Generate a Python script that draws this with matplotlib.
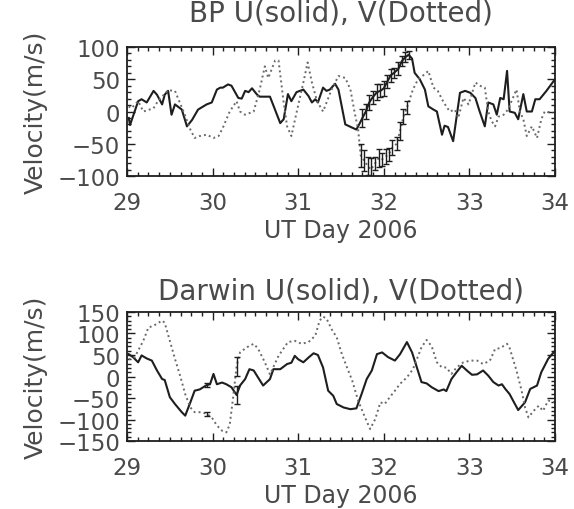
import numpy as np
import matplotlib
matplotlib.use("Agg")
import matplotlib.pyplot as plt
from matplotlib.ticker import MultipleLocator

# ---- BP, top panel ----
bp_u_day = [29.02, 29.035, 29.13, 29.17, 29.23, 29.31, 29.35, 29.41, 29.44, 29.48,
            29.52, 29.56, 29.64, 29.70, 29.76, 29.83, 29.93, 29.99, 30.05, 30.09,
            30.12, 30.18, 30.22, 30.30, 30.34, 30.38, 30.42, 30.46, 30.52, 30.55,
            30.67, 30.79, 30.83, 30.88, 30.92, 30.98, 31.06, 31.12, 31.16, 31.20,
            31.23, 31.29, 31.33, 31.37, 31.43, 31.47, 31.55, 31.63, 31.68, 31.72]
bp_u = [-10, -21, 16, 19, 14, 32, 26, 11, 26, 32,
        -5, 11, 3, -23, -13, 3, 11, 14, 34, 37,
        37, 42, 40, 21, 20, 32, 30, 36, 26, 23,
        23, -18, -12, 27, 16, 30, 34, 24, 14, 19,
        14, 37, 32, 34, 43, 34, -20, -25, -28, -18]
# U points with error bars
bp_ue_day = [31.75, 31.79, 31.83, 31.87, 31.92, 31.96, 32.00, 32.04, 32.08, 32.12,
             32.17, 32.21, 32.25, 32.29]
bp_ue = [-10, 0, 14, 22, 30, 32, 36, 46, 56, 60, 66, 78, 84, 88]
bp_ue_err = [14, 12, 12, 10, 12, 10, 12, 10, 10, 8, 10, 8, 8, 6]
bp_u2_day = [32.33, 32.36, 32.42, 32.48, 32.52, 32.58, 32.62, 32.68, 32.71, 32.75,
             32.81, 32.89, 32.95, 33.01, 33.07, 33.12, 33.18, 33.22, 33.28, 33.32,
             33.36, 33.40, 33.44, 33.47, 33.53, 33.57, 33.63, 33.67, 33.73, 33.77,
             33.82, 33.90, 34.00]
bp_u2 = [82, 60, 50, 34, 8, 3, 0, -36, -22, -24,
         -46, 29, 32, 29, 21, 0, -23, 14, 11, -5,
         21, 19, 63, 0, -2, -12, 27, 0, 0, 19,
         19, 32, 50]

bp_v_day = [29.02, 29.05, 29.13, 29.19, 29.31, 29.36, 29.48, 29.56, 29.66, 29.74,
            29.79, 29.85, 29.93, 30.01, 30.07, 30.12, 30.20, 30.28, 30.32, 30.38,
            30.48, 30.55, 30.61, 30.65, 30.73, 30.77, 30.83, 30.87, 30.92, 30.98,
            31.06, 31.11, 31.16, 31.22, 31.29, 31.39, 31.47, 31.55, 31.61, 31.66,
            31.70]
bp_v = [8, 5, 16, 0, 5, 16, 33, 32, 0, -28,
        -41, -38, -36, -41, -38, -25, 0, 16, 0, -5,
        0, 34, 70, 52, 79, 79, 14, -23, -38, -2,
        45, 76, 45, 16, 0, 34, 55, 52, 34, -2,
        -28]
# V points with error bars
bp_ve_day = [31.73, 31.77, 31.81, 31.85, 31.90, 31.94, 31.98, 32.02, 32.06, 32.10,
             32.15, 32.19, 32.23, 32.27]
bp_ve = [-68, -76, -84, -90, -80, -72, -74, -70, -66, -56, -50, -30, -8, 6]
bp_ve_err = [18, 16, 14, 18, 10, 14, 10, 12, 10, 12, 10, 14, 12, 10]
bp_v2_day = [32.34, 32.40, 32.48, 32.52, 32.58, 32.63, 32.70, 32.77, 32.83, 32.87,
             32.93, 32.99, 33.07, 33.12, 33.18, 33.22, 33.26, 33.30, 33.34, 33.40,
             33.45, 33.55, 33.59, 33.63, 33.67, 33.73, 33.79, 33.84, 33.88, 33.98]
bp_v2 = [34, 50, 58, 63, 37, 32, 14, 0, 3, -10,
         21, 11, 45, 40, 37, 0, -15, -23, -8, -5,
         3, 34, 0, -12, -38, -23, -41, -12, 0, -2]

# ---- Darwin, bottom panel ----
dw_u_day = [29.02, 29.07, 29.13, 29.17, 29.23, 29.29, 29.35, 29.41, 29.44, 29.50,
            29.56, 29.64, 29.68, 29.74, 29.79, 29.85, 29.93, 29.97, 30.01, 30.05,
            30.11, 30.16, 30.22, 30.28, 30.32, 30.38, 30.43, 30.48, 30.53, 30.59,
            30.67, 30.71, 30.79, 30.87, 30.92, 30.96, 31.00, 31.06, 31.12, 31.18,
            31.23, 31.29, 31.35, 31.41, 31.45, 31.53, 31.61, 31.68, 31.74, 31.80,
            31.86, 31.92, 31.98, 32.05, 32.13, 32.19, 32.27, 32.33, 32.38, 32.44,
            32.50, 32.56, 32.64, 32.70, 32.73, 32.79, 32.85, 32.91, 32.97, 33.03,
            33.09, 33.16, 33.22, 33.28, 33.34, 33.38, 33.42, 33.47, 33.51, 33.57,
            33.65, 33.71, 33.79, 33.84, 33.92, 34.00]
dw_u = [52, 45, 33, 49, 42, 37, 14, -6, -8, -48,
        -64, -83, -91, -60, -33, -30, -20, -18, 6, -18,
        -14, -18, -25, -43, -21, -6, 17, 14, -2, -21,
        -6, 17, 17, 29, 32, 48, 40, 33, 44, 54,
        50, 21, -33, -45, -64, -72, -76, -74, -41, -6,
        14, 52, 56, 45, 37, 52, 80, 56, 25, -13,
        -16, -25, -34, -30, -34, -6, 10, 25, 14, 4,
        5, 14, 2, -13, -21, -18, -29, -41, -56, -78,
        -60, -29, -21, 10, 41, 60]
dw_v_day = [29.02, 29.09, 29.19, 29.25, 29.31, 29.41, 29.44, 29.50, 29.56, 29.62,
            29.68, 29.74, 29.79, 29.87, 29.93, 29.99, 30.05, 30.11, 30.16, 30.20,
            30.24, 30.28, 30.32, 30.40, 30.48, 30.53, 30.61, 30.67, 30.77, 30.88,
            30.96, 31.04, 31.12, 31.20, 31.25, 31.29, 31.33, 31.39, 31.45, 31.51,
            31.57, 31.63, 31.70, 31.78, 31.84, 31.90, 31.96, 32.01, 32.07, 32.13,
            32.19, 32.27, 32.34, 32.38, 32.44, 32.50, 32.56, 32.62, 32.68, 32.73,
            32.79, 32.85, 32.93, 33.01, 33.09, 33.16, 33.24, 33.30, 33.36, 33.44,
            33.47, 33.55, 33.61, 33.65, 33.69, 33.75, 33.81, 33.86, 33.92, 34.00]
dw_v = [40, 45, 83, 114, 118, 130, 125, 83, 41, 2,
        -41, -72, -83, -83, -87, -95, -114, -126, -130, -112,
        -48, 24, 56, 68, 76, 65, 33, 5, 48, 80,
        83, 76, 80, 95, 130, 139, 135, 110, 91, 52,
        21, -9, -56, -95, -122, -99, -60, -64, -48, -33,
        -17, -2, 17, 37, 68, 85, 70, 33, 21, 21,
        6, 21, 33, 37, 37, 29, 37, 64, 66, 76,
        66, 14, -33, -72, -95, -80, -68, -80, -56, -60]
dw_ue_day = [29.93, 30.28]
dw_ue = [-20, -43]
dw_ue_err = [5, 22]
dw_ve_day = [29.93, 30.28]
dw_ve = [-87, 24]
dw_ve_err = [5, 22]

day_ticks = [29, 30, 31, 32, 33, 34]
txt = '#4a4a4a'
ink = '#1e1e1e'
dot = '#6a6a6a'

plt.rcParams['font.family'] = ['DejaVu Sans']
fig = plt.figure(figsize=(5.74, 5.10), dpi=100)
ax1 = fig.add_axes([0.2213, 0.6529, 0.7456, 0.2530])
ax2 = fig.add_axes([0.2213, 0.1333, 0.7456, 0.2530])


def style(ax, ylim, title, tpad):
    ax.set_xlim(29, 34)
    ax.set_ylim(-ylim, ylim)
    ax.set_xticks(day_ticks)
    ax.xaxis.set_minor_locator(MultipleLocator(0.125))
    ax.yaxis.set_major_locator(MultipleLocator(50))
    ax.yaxis.set_minor_locator(MultipleLocator(10))
    ax.tick_params(which='both', direction='in', top=True, right=True,
                   colors=ink, labelcolor=txt, labelsize=16.5, width=1.0)
    ax.tick_params(axis='x', which='major', length=6, pad=11)
    ax.tick_params(axis='y', which='major', length=6, pad=5)
    ax.tick_params(which='minor', length=3)
    for s in ax.spines.values():
        s.set_color(ink)
        s.set_linewidth(1.3)
    ax.set_title(title, fontsize=20, color=txt, pad=tpad)
    ax.set_xlabel('UT Day 2006', fontsize=17, color=txt, labelpad=3)
    ax.set_ylabel('Velocity(m/s)', fontsize=18, color=txt)
    ax.yaxis.set_label_coords(-0.185, 0.5)


# top panel
ax1.plot(bp_u_day + bp_ue_day + bp_u2_day, bp_u + bp_ue + bp_u2,
         color=ink, lw=1.5)
ax1.plot(bp_v_day + bp_ve_day + bp_v2_day, bp_v + bp_ve + bp_v2,
         color=dot, lw=1.4, ls=(0, (1, 1.6)))
ax1.errorbar(bp_ue_day, bp_ue, yerr=bp_ue_err, fmt='none',
             ecolor=ink, elinewidth=1.0, capsize=2)
ax1.errorbar(bp_ve_day, bp_ve, yerr=bp_ve_err, fmt='none',
             ecolor=ink, elinewidth=1.0, capsize=2)
style(ax1, 100, 'BP U(solid), V(Dotted)', 19)

# bottom panel
ax2.plot(dw_u_day, dw_u, color=ink, lw=1.5)
ax2.plot(dw_v_day, dw_v, color=dot, lw=1.4, ls=(0, (1, 1.6)))
ax2.errorbar(dw_ue_day, dw_ue, yerr=dw_ue_err, fmt='none',
             ecolor=ink, elinewidth=1.0, capsize=2)
ax2.errorbar(dw_ve_day, dw_ve, yerr=dw_ve_err, fmt='none',
             ecolor=ink, elinewidth=1.0, capsize=2)
style(ax2, 150, 'Darwin U(solid), V(Dotted)', 10)

fig.savefig('out.png', dpi=100)
